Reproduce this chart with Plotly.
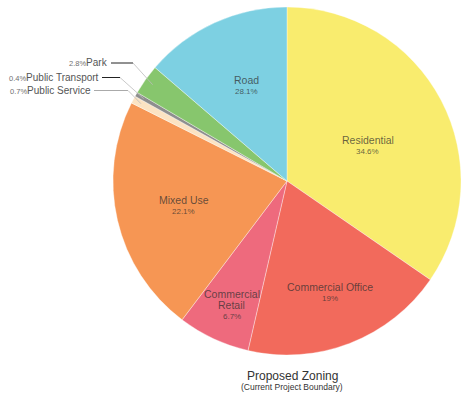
import math
import plotly.graph_objects as go

# Zoning shares (percent of project area), clockwise from 12 o'clock
zones = ["Residential", "Commercial Office", "Commercial Retail", "Mixed Use",
         "Public Service", "Public Transport", "Park", "Road"]
share = [34.6, 19.0, 6.7, 22.1, 0.7, 0.4, 2.8, 13.7]
share_text = ["34.6%", "19%", "6.7%", "22.1%", "0.7%", "0.4%", "2.8%", "28.1%"]
name_lines = [["Residential"], ["Commercial Office"], ["Commercial", "Retail"], ["Mixed Use"],
              ["Public Service"], ["Public Transport"], ["Park"], ["Road"]]
colors = ["#F9EC6E", "#F26A5C", "#EE6A7D", "#F69654",
          "#FBE3C3", "#8E8E8E", "#87C66D", "#7DD0E2"]

W, H = 461, 400
CX, CY, R = 287, 181, 174   # pie centre / radius in pixels
FONT = "Liberation Sans, Arial"
LINE_GAP = 11.5


def px(x):
    return x / W


def py(y):
    return 1 - y / H


fig = go.Figure(go.Pie(
    labels=zones,
    values=share,
    textinfo="none",
    marker=dict(colors=colors, line=dict(color="rgba(255,255,255,0.6)", width=0.6)),
    sort=False,
    direction="clockwise",
    rotation=0,
    hoverinfo="label+percent",
    domain=dict(x=[px(CX - R), px(CX + R)], y=[py(CY + R), py(CY - R)]),
))

# in-slice labels: (radial fraction, angular nudge in degrees)
inner = {"Residential": (0.507, 4.3), "Commercial Office": (0.69, 0.2),
         "Commercial Retail": (0.78, -1.1), "Mixed Use": (0.61, -0.5), "Road": (0.595, 1.4)}
# callouts for thin slices: (label y, line start x, elbow x, horizontal line colour)
callout = {
    "Park": (63, 111, 133, "#222222"),
    "Public Transport": (77.5, 102, 120, "#222222"),
    "Public Service": (90.5, 94, 128, "#AAAAAA"),
}

total = sum(share)
shapes, annotations = [], []
cum = 0.0
for name, lines, s, t in zip(zones, name_lines, share, share_text):
    mid = (cum + s / 2) / total * 2 * math.pi
    cum += s
    if name in inner:
        frac, nudge = inner[name]
        ang = mid + math.radians(nudge)
        cx = CX + frac * R * math.sin(ang)
        cy = CY - frac * R * math.cos(ang)
        rows = [(ln, 10.5) for ln in lines] + [(t, 8)]
        top = cy - LINE_GAP * (len(rows) - 1) / 2
        for i, (txt, size) in enumerate(rows):
            annotations.append(dict(
                x=px(cx), y=py(top + i * LINE_GAP), xref="paper", yref="paper",
                xanchor="center", yanchor="middle", showarrow=False,
                text=txt, font=dict(family=FONT, size=size, color="rgba(45,45,45,0.72)"),
            ))
        continue
    ly, x0, ex, hcol = callout[name]
    tx = CX + 0.95 * R * math.sin(mid)
    ty = CY - 0.95 * R * math.cos(mid)
    annotations.append(dict(
        x=px(x0 - 1), y=py(ly), xref="paper", yref="paper",
        xanchor="right", yanchor="middle", showarrow=False,
        text=f"<span style='font-size:7.5px;color:#707070'>{t}</span>"
             f"<span style='font-size:10px;color:#555555'>{name}</span>",
        font=dict(family=FONT, size=10),
    ))
    shapes.append(dict(type="line", xref="paper", yref="paper",
                       x0=px(x0), y0=py(ly), x1=px(ex), y1=py(ly),
                       line=dict(color=hcol, width=1)))
    shapes.append(dict(type="line", xref="paper", yref="paper",
                       x0=px(ex), y0=py(ly), x1=px(tx), y1=py(ty),
                       line=dict(color="#BBBBBB", width=0.8)))

annotations.append(dict(
    x=px(292), y=py(376), xref="paper", yref="paper", showarrow=False,
    xanchor="center", yanchor="middle",
    text="Proposed Zoning", font=dict(family=FONT, size=12, color="#333333")))
annotations.append(dict(
    x=px(292), y=py(387), xref="paper", yref="paper", showarrow=False,
    xanchor="center", yanchor="middle",
    text="(Current Project Boundary)", font=dict(family=FONT, size=8.5, color="#333333")))

fig.update_layout(
    width=W, height=H,
    margin=dict(l=0, r=0, t=0, b=0),
    paper_bgcolor="white",
    showlegend=False,
    shapes=shapes,
    annotations=annotations,
)
fig.write_html("out.html")
